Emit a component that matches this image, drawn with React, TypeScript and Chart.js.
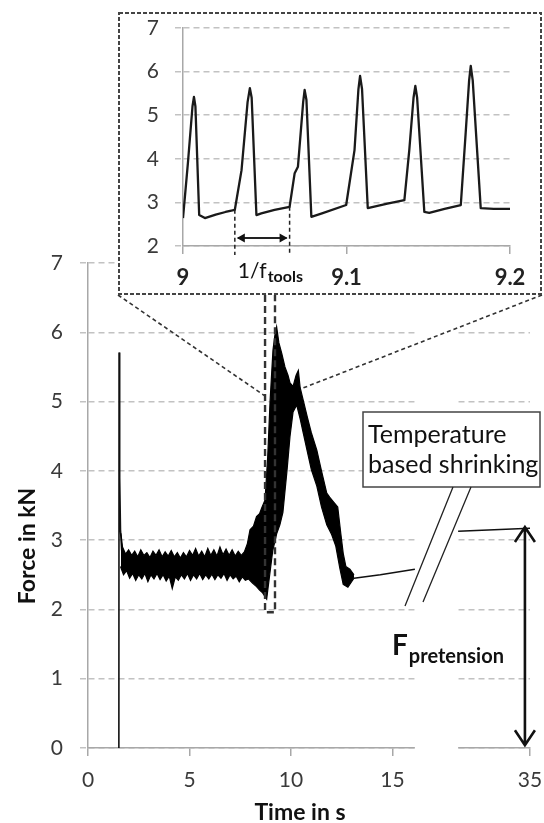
import React, { useEffect, useRef } from 'react';
import { Chart, registerables } from 'chart.js';

Chart.register(...registerables);

const FONT = 'Lato, "Noto Sans", sans-serif';

// ---------- main chart data (time in s, force in kN) ----------
const spikeTime = [1.52, 1.53, 1.56, 1.6, 1.66];
const spikeForce = [0, 5.71, 3.9, 3.15, 2.85];

// upper and lower edge of the dense force band
const upperTime = [1.62, 1.7, 1.85, 2.0, 2.15, 2.3, 2.45, 2.6, 2.75, 2.9, 3.05, 3.2, 3.35, 3.5, 3.65, 3.8, 3.95, 4.1, 4.25, 4.4, 4.55, 4.7, 4.85, 5.0, 5.15, 5.3, 5.45, 5.6, 5.75, 5.9, 6.05, 6.2, 6.35, 6.5, 6.65, 6.8, 6.95, 7.1, 7.25, 7.4, 7.55, 7.7, 7.85, 7.98, 8.15, 8.3, 8.45, 8.55, 8.72, 8.85, 8.97, 9.11, 9.2, 9.29, 9.4, 9.54, 9.7, 9.85, 9.95, 10.1, 10.25, 10.36, 10.45, 10.6, 10.8, 11.0, 11.27, 11.5, 11.76, 11.9, 12.1, 12.3, 12.45, 12.57, 12.7, 12.9, 13.1];
const upperForce = [3.1, 2.9, 2.8, 2.86, 2.78, 2.84, 2.76, 2.86, 2.78, 2.82, 2.75, 2.84, 2.78, 2.86, 2.76, 2.83, 2.77, 2.85, 2.76, 2.82, 2.74, 2.82, 2.76, 2.85, 2.78, 2.88, 2.77, 2.84, 2.76, 2.88, 2.78, 2.86, 2.77, 2.9, 2.79, 2.87, 2.78, 2.86, 2.77, 2.84, 2.78, 2.83, 2.95, 3.15, 3.2, 3.34, 3.38, 3.46, 3.58, 4.2, 5.02, 5.74, 5.95, 6.08, 5.85, 5.7, 5.5, 5.38, 5.27, 5.22, 5.38, 5.45, 5.2, 5.02, 4.78, 4.55, 4.3, 4.0, 3.68, 3.62, 3.55, 3.48, 3.1, 2.81, 2.62, 2.58, 2.5];

const lowerTime = [1.6, 1.75, 1.9, 2.05, 2.2, 2.35, 2.5, 2.65, 2.8, 2.95, 3.1, 3.25, 3.4, 3.55, 3.7, 3.85, 4.0, 4.15, 4.3, 4.45, 4.6, 4.75, 4.9, 5.05, 5.2, 5.35, 5.5, 5.65, 5.8, 5.95, 6.1, 6.25, 6.4, 6.55, 6.7, 6.85, 7.0, 7.15, 7.3, 7.45, 7.6, 7.75, 7.9, 8.1, 8.3, 8.45, 8.6, 8.8, 8.95, 9.1, 9.3, 9.45, 9.6, 9.8, 9.95, 10.1, 10.28, 10.45, 10.6, 10.8, 11.0, 11.27, 11.5, 11.76, 12.0, 12.2, 12.4, 12.57, 12.8, 13.1];
const lowerForce = [2.62, 2.5, 2.56, 2.45, 2.52, 2.42, 2.5, 2.44, 2.52, 2.4, 2.5, 2.44, 2.52, 2.43, 2.5, 2.41, 2.48, 2.3, 2.47, 2.42, 2.5, 2.44, 2.52, 2.42, 2.5, 2.44, 2.52, 2.43, 2.5, 2.44, 2.51, 2.43, 2.5, 2.45, 2.52, 2.42, 2.5, 2.44, 2.48, 2.4, 2.47, 2.42, 2.44, 2.38, 2.33, 2.28, 2.24, 2.15, 2.5, 2.85, 3.1, 3.22, 3.4, 4.0, 4.5, 4.85, 4.95, 4.75, 4.55, 4.28, 4.02, 3.78, 3.48, 3.22, 3.08, 2.92, 2.6, 2.36, 2.32, 2.45];

const tailTime = [13.1, 14.4, 16.1, 31.46, 35.0];
const tailForce = [2.45, 2.5, 2.58, 3.13, 3.17];

const mainXTickLabels = [0, 5, 10, 15, 35];
const mainYTicks = [0, 1, 2, 3, 4, 5, 6, 7];

// ---------- inset data ----------
const insetTime = [9.0, 9.003, 9.0058, 9.0067, 9.0076, 9.0099, 9.0134, 9.02, 9.026, 9.0317, 9.0358, 9.0395, 9.0409, 9.042, 9.0449, 9.0479, 9.056, 9.0652, 9.0683, 9.0703, 9.0735, 9.0744, 9.0755, 9.0785, 9.085, 9.0998, 9.1049, 9.1073, 9.1083, 9.1095, 9.113, 9.125, 9.1354, 9.1384, 9.141, 9.1421, 9.1432, 9.1476, 9.1506, 9.16, 9.1699, 9.1729, 9.175, 9.176, 9.1772, 9.1821, 9.19, 9.2];
const insetForce = [2.64, 3.9, 5.2, 5.42, 5.2, 2.71, 2.64, 2.72, 2.78, 2.83, 3.74, 5.3, 5.62, 5.4, 2.71, 2.75, 2.83, 2.9, 3.67, 3.82, 5.3, 5.58, 5.35, 2.67, 2.75, 2.94, 4.2, 5.6, 5.9, 5.6, 2.87, 2.97, 3.05, 4.2, 5.4, 5.67, 5.4, 2.78, 2.76, 2.85, 2.94, 4.6, 5.8, 6.13, 5.8, 2.87, 2.85, 2.85];
const insetXTicks = [9, 9.1, 9.2];
const insetYTicks = [2, 3, 4, 5, 6, 7];
const periodStart = 9.0317;
const periodEnd = 9.0652;

// ---------- axis break ----------
const BREAK_START = 16.1; // display units
const BREAK_END = 18.23;
const BREAK_SHIFT = 13.23; // real 35 s -> display 21.77
const toDisplay = (t: number) => (t > 20 ? t - BREAK_SHIFT : t);
const fromDisplay = (v: number) => (v > BREAK_END ? v + BREAK_SHIFT : v);

// layout (page pixels)
const W = 544;
const H = 823;
const INSET = { left: 118, top: 12, w: 424, h: 283 };

const pts = (ts: number[], fs: number[]) => ts.map((t, i) => ({ x: toDisplay(t), y: fs[i] }));

function tailPoints() {
  const out: any[] = [];
  tailTime.forEach((t, i) => {
    if (i > 0 && tailTime[i - 1] <= BREAK_START + 0.01 && t > 20) out.push({ x: BREAK_START + 1, y: null });
    out.push({ x: toDisplay(t), y: tailForce[i] });
  });
  return out;
}

const TICK_COLOR = '#3a3a3a';
const GRID_COLOR = '#c2c2c2';
const AXIS_COLOR = '#a8a8a8';

const noScalePadding = (s: any) => {
  s.paddingLeft = 0;
  s.paddingRight = 0;
  s.paddingTop = 0;
  s.paddingBottom = 0;
};

export default function App() {
  const mainRef = useRef<HTMLCanvasElement>(null);
  const insetRef = useRef<HTMLCanvasElement>(null);

  useEffect(() => {
    const mainDecor = {
      id: 'mainDecor',
      beforeDatasetsDraw(chart: any) {
        const { ctx, chartArea, scales } = chart;
        const x1 = scales.x.getPixelForValue(BREAK_START);
        const x2 = scales.x.getPixelForValue(BREAK_END);
        ctx.save();
        ctx.fillStyle = '#fff';
        ctx.fillRect(x1, chartArea.top - 6, x2 - x1, chartArea.bottom - chartArea.top + 10);
        ctx.restore();
      },
      afterDatasetsDraw(chart: any) {
        const { ctx, scales } = chart;
        const px = (t: number) => scales.x.getPixelForValue(toDisplay(t));
        const py = (f: number) => scales.y.getPixelForValue(f);
        ctx.save();
        // dashed zoom rectangle
        const rl = px(8.72), rr = px(9.21), rb = py(1.96), rt = INSET.top + INSET.h;
        ctx.lineWidth = 2.4;
        ctx.strokeStyle = '#333';
        ctx.setLineDash([7, 4]);
        ctx.beginPath();
        ctx.moveTo(rl, rt);
        ctx.lineTo(rl, rb);
        ctx.lineTo(rr, rb);
        ctx.lineTo(rr, rt);
        ctx.stroke();
        // connecting lines
        ctx.lineWidth = 1.6;
        ctx.setLineDash([4, 3]);
        ctx.beginPath();
        ctx.moveTo(INSET.left, INSET.top + INSET.h);
        ctx.lineTo(px(8.77), py(5.07));
        ctx.moveTo(INSET.left + INSET.w, INSET.top + INSET.h);
        ctx.lineTo(px(10.54), py(5.19));
        ctx.stroke();
        ctx.setLineDash([]);

        // callout box
        ctx.fillStyle = '#fff';
        ctx.fillRect(363, 412, 177, 75);
        ctx.lineWidth = 1.5;
        ctx.strokeStyle = '#444';
        ctx.strokeRect(363, 412, 177, 75);
        ctx.fillStyle = '#111';
        ctx.font = `25px ${FONT}`;
        ctx.textAlign = 'left';
        ctx.textBaseline = 'alphabetic';
        ctx.fillText('Temperature', 368, 443);
        ctx.fillText('based shrinking', 368, 473);
        // break / callout lines
        ctx.strokeStyle = '#222';
        ctx.lineWidth = 1.3;
        ctx.beginPath();
        ctx.moveTo(453, 487);
        ctx.lineTo(405, 606);
        ctx.moveTo(471, 487);
        ctx.lineTo(423, 602);
        ctx.stroke();

        // F pretension
        ctx.fillStyle = '#111';
        ctx.font = `bold 28px ${FONT}`;
        ctx.fillText('F', 392, 655);
        const fw = ctx.measureText('F').width;
        ctx.font = `bold 20px ${FONT}`;
        ctx.fillText('pretension', 392 + fw + 1, 663);

        // double arrow
        const ax = px(34.75), ay1 = py(3.19), ay2 = py(0.04);
        ctx.strokeStyle = '#111';
        ctx.lineWidth = 2.6;
        ctx.beginPath();
        ctx.moveTo(ax, ay1);
        ctx.lineTo(ax, ay2);
        ctx.moveTo(ax - 10, ay1 + 15);
        ctx.lineTo(ax, ay1);
        ctx.lineTo(ax + 10, ay1 + 15);
        ctx.moveTo(ax - 10, ay2 - 15);
        ctx.lineTo(ax, ay2);
        ctx.lineTo(ax + 10, ay2 - 15);
        ctx.stroke();

        // axis titles
        ctx.fillStyle = '#111';
        ctx.font = `bold 23px ${FONT}`;
        ctx.textAlign = 'center';
        ctx.fillText('Time in s', 300, 820);
        ctx.translate(35, 546);
        ctx.rotate(-Math.PI / 2);
        ctx.fillText('Force in kN', 0, 0);
        ctx.restore();
      },
    };

    const main = new Chart(mainRef.current as HTMLCanvasElement, {
      type: 'line',
      data: {
        datasets: [
          {
            data: pts(upperTime, upperForce),
            borderColor: '#000',
            borderWidth: 1.2,
            backgroundColor: '#000',
            fill: '+1',
            pointRadius: 0,
          },
          {
            data: pts(lowerTime, lowerForce),
            borderColor: '#000',
            borderWidth: 1.2,
            fill: false,
            pointRadius: 0,
          },
          {
            data: pts(spikeTime, spikeForce),
            borderColor: '#111',
            borderWidth: 1.6,
            fill: false,
            pointRadius: 0,
          },
          {
            data: tailPoints(),
            borderColor: '#111',
            borderWidth: 1.5,
            fill: false,
            pointRadius: 0,
            spanGaps: false,
          },
        ],
      },
      options: {
        animation: false,
        responsive: false,
        devicePixelRatio: 1,
        layout: { autoPadding: false, padding: { left: 0, right: 14, top: 263, bottom: 0 } },
        plugins: { legend: { display: false }, tooltip: { enabled: false } },
        elements: { line: { tension: 0 } },
        scales: {
          x: {
            type: 'linear',
            min: 0,
            max: toDisplay(35),
            afterFit: (s: any) => {
              s.height = H - 748;
              noScalePadding(s);
            },
            afterBuildTicks: (s: any) => {
              s.ticks = mainXTickLabels.map((v) => ({ value: toDisplay(v) }));
            },
            ticks: {
              callback: (v: any) => String(Math.round(fromDisplay(Number(v)))),
              font: { family: FONT, size: 21 },
              color: TICK_COLOR,
              padding: 12,
              maxRotation: 0,
              autoSkip: false,
            },
            grid: { drawOnChartArea: false, drawTicks: true, tickLength: 8, color: AXIS_COLOR, lineWidth: 1.5 },
            border: { display: true, color: AXIS_COLOR, width: 1.5 },
          },
          y: {
            type: 'linear',
            min: 0,
            max: 7,
            afterFit: (s: any) => {
              s.width = 88;
              noScalePadding(s);
            },
            afterBuildTicks: (s: any) => {
              s.ticks = mainYTicks.map((v) => ({ value: v }));
            },
            ticks: {
              font: { family: FONT, size: 21 },
              color: TICK_COLOR,
              padding: 17,
            },
            grid: {
              color: GRID_COLOR,
              lineWidth: 1.5,
              tickLength: 8,
              tickBorderDash: [6, 4],
            },
            border: { display: true, color: AXIS_COLOR, width: 1.5, dash: [6, 4] },
          },
        },
      },
      plugins: [mainDecor],
    } as any);

    const insetDecor = {
      id: 'insetDecor',
      beforeDraw(chart: any) {
        const { ctx, width, height } = chart;
        ctx.save();
        ctx.fillStyle = '#fff';
        ctx.fillRect(0, 0, width, height);
        ctx.restore();
      },
      afterDraw(chart: any) {
        const { ctx, width, height, chartArea, scales } = chart;
        ctx.save();
        const xa = scales.x.getPixelForValue(periodStart);
        const xb = scales.x.getPixelForValue(periodEnd);
        const yBottom = chartArea.bottom + 9;
        ctx.strokeStyle = '#222';
        ctx.lineWidth = 1.5;
        ctx.setLineDash([4, 3]);
        ctx.beginPath();
        ctx.moveTo(xa, scales.y.getPixelForValue(2.83));
        ctx.lineTo(xa, yBottom);
        ctx.moveTo(xb, scales.y.getPixelForValue(2.9));
        ctx.lineTo(xb, yBottom);
        ctx.stroke();
        ctx.setLineDash([]);
        // double arrow
        const ay = chartArea.bottom - 8;
        ctx.lineWidth = 2;
        ctx.beginPath();
        ctx.moveTo(xa + 3, ay);
        ctx.lineTo(xb - 3, ay);
        ctx.stroke();
        ctx.fillStyle = '#111';
        ctx.beginPath();
        ctx.moveTo(xa + 2, ay);
        ctx.lineTo(xa + 10, ay - 4.5);
        ctx.lineTo(xa + 10, ay + 4.5);
        ctx.closePath();
        ctx.moveTo(xb - 2, ay);
        ctx.lineTo(xb - 10, ay - 4.5);
        ctx.lineTo(xb - 10, ay + 4.5);
        ctx.closePath();
        ctx.fill();
        // label 1/f_tools
        ctx.fillStyle = '#111';
        ctx.textAlign = 'left';
        ctx.textBaseline = 'alphabetic';
        ctx.font = `21px ${FONT}`;
        ctx.fillText('1/f', xa + 3, 266);
        const w = ctx.measureText('1/f').width;
        ctx.font = `bold 16px ${FONT}`;
        ctx.fillText('tools', xa + 3 + w + 1, 270);
        // dashed frame
        ctx.strokeStyle = '#444';
        ctx.lineWidth = 2;
        ctx.setLineDash([4, 2]);
        ctx.strokeRect(1, 1, width - 2, height - 2);
        ctx.restore();
      },
    };

    const inset = new Chart(insetRef.current as HTMLCanvasElement, {
      type: 'line',
      data: {
        datasets: [
          {
            data: insetTime.map((t, i) => ({ x: t, y: insetForce[i] })),
            borderColor: '#1a1a1a',
            borderWidth: 2.3,
            fill: false,
            pointRadius: 0,
          },
        ],
      },
      options: {
        animation: false,
        responsive: false,
        devicePixelRatio: 1,
        layout: { autoPadding: false, padding: { left: 0, right: 32, top: 16, bottom: 0 } },
        plugins: { legend: { display: false }, tooltip: { enabled: false } },
        elements: { line: { tension: 0, borderJoinStyle: 'round' } },
        scales: {
          x: {
            type: 'linear',
            min: 9,
            max: 9.2,
            afterFit: (s: any) => {
              s.height = 49;
              noScalePadding(s);
            },
            afterBuildTicks: (s: any) => {
              s.ticks = insetXTicks.map((v) => ({ value: v }));
            },
            ticks: {
              callback: (v: any) => (Math.abs(Number(v) - 9) < 1e-9 ? '9' : Number(v).toFixed(1)),
              font: { family: FONT, size: 22, weight: 'bold' },
              color: '#222',
              padding: 11,
              maxRotation: 0,
              autoSkip: false,
            },
            grid: { drawOnChartArea: false, drawTicks: true, tickLength: 8, color: AXIS_COLOR, lineWidth: 1.5 },
            border: { display: true, color: AXIS_COLOR, width: 1.5 },
          },
          y: {
            type: 'linear',
            min: 2,
            max: 7,
            afterFit: (s: any) => {
              s.width = 65;
              noScalePadding(s);
            },
            afterBuildTicks: (s: any) => {
              s.ticks = insetYTicks.map((v) => ({ value: v }));
            },
            ticks: {
              font: { family: FONT, size: 21 },
              color: TICK_COLOR,
              padding: 16,
            },
            grid: { color: GRID_COLOR, lineWidth: 1.5, tickLength: 8, tickBorderDash: [6, 4] },
            border: { display: true, color: AXIS_COLOR, width: 1.5, dash: [6, 4] },
          },
        },
      },
      plugins: [insetDecor],
    } as any);

    return () => {
      main.destroy();
      inset.destroy();
    };
  }, []);

  return (
    <div style={{ position: 'absolute', left: 0, top: 0, width: W, height: H, background: '#fff' }}>
      <canvas
        ref={mainRef}
        width={W}
        height={H}
        style={{ position: 'absolute', left: 0, top: 0, width: W, height: H, display: 'block' }}
      />
      <canvas
        ref={insetRef}
        width={INSET.w}
        height={INSET.h}
        style={{ position: 'absolute', left: INSET.left, top: INSET.top, width: INSET.w, height: INSET.h, display: 'block' }}
      />
    </div>
  );
}
